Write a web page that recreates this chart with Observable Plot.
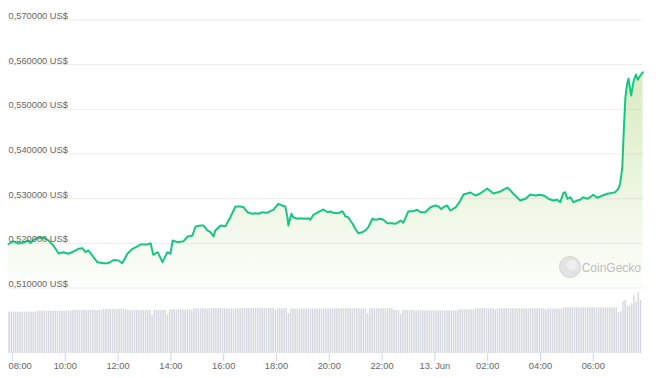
<!DOCTYPE html>
<html><head><meta charset="utf-8">
<script src="https://cdn.jsdelivr.net/npm/d3@7"></script>
<script src="https://cdn.jsdelivr.net/npm/@observablehq/plot@0.6"></script>
<style>
html,body{margin:0;padding:0;background:#fff;}
#chart{width:659px;height:378px;position:relative;overflow:hidden;font-family:"Liberation Sans",Arial,sans-serif;}
#chart svg{display:block;}
</style></head><body><div id="chart"></div>
<script>
// ---- data ----
const startTime = Date.UTC(2024, 5, 12, 7, 51); // 12 Jun 07:51
// [minutes after start, price in US$]
const priceSeries = [
[0,0.51985],[11,0.52048],[23,0.51997],[34,0.52019],[45,0.52064],[50,0.52008],[57,0.52075],[68,0.52131],
[80,0.52124],[91,0.52064],[102,0.51952],[114,0.51773],[125,0.51802],[136,0.51766],[148,0.51818],[159,0.51878],
[168,0.51891],[175,0.51802],[182,0.5184],[193,0.5169],[202,0.51578],[216,0.51556],[227,0.51556],[239,0.51627],
[250,0.51616],[259,0.51556],[270,0.51766],[282,0.51878],[293,0.5193],[300,0.51974],[316,0.51974],[323,0.52003],
[329,0.51744],[339,0.51802],[350,0.51578],[361,0.51802],[368,0.51766],[373,0.52064],[384,0.52026],[398,0.52048],
[407,0.52153],[418,0.52176],[425,0.52377],[436,0.524],[443,0.524],[452,0.52288],[459,0.5225],[466,0.52153],
[470,0.52288],[482,0.524],[493,0.52384],[504,0.52585],[516,0.52825],[527,0.52825],[534,0.52809],[543,0.52697],
[554,0.52662],[561,0.52675],[568,0.52662],[577,0.52697],[588,0.52684],[595,0.5272],[602,0.52751],[613,0.52885],
[622,0.52847],[629,0.52825],[634,0.52585],[636,0.524],[643,0.52662],[647,0.52585],[657,0.5255],[663,0.52563],
[675,0.5255],[682,0.52563],[686,0.52527],[693,0.52639],[704,0.52697],[716,0.52758],[725,0.52697],[732,0.52713],
[738,0.52684],[750,0.52675],[759,0.5272],[766,0.52601],[772,0.52585],[782,0.52438],[788,0.52326],[795,0.52227],
[804,0.5225],[811,0.52288],[818,0.52362],[827,0.5255],[834,0.52527],[845,0.5255],[852,0.52527],[861,0.52451],
[872,0.52451],[879,0.52438],[886,0.52473],[891,0.52512],[897,0.52459],[909,0.5272],[920,0.5272],[929,0.52751],
[936,0.52697],[947,0.52697],[959,0.52809],[970,0.52847],[977,0.52825],[984,0.52765],[988,0.52809],[997,0.52847],
[1004,0.52735],[1016,0.52803],[1027,0.52959],[1034,0.53094],[1050,0.53138],[1061,0.53071],[1072,0.53116],[1088,0.53228],
[1102,0.53116],[1118,0.53161],[1134,0.5325],[1147,0.53116],[1156,0.53026],[1163,0.52959],[1175,0.52997],[1186,0.53094],
[1197,0.53071],[1209,0.53087],[1220,0.53056],[1227,0.52997],[1238,0.52959],[1247,0.52975],[1254,0.52921],[1261,0.53123],
[1265,0.53145],[1270,0.52997],[1277,0.53033],[1284,0.52921],[1293,0.52959],[1300,0.52982],[1306,0.53033],[1315,0.52997],
[1322,0.53033],[1329,0.53087],[1338,0.5302],[1350,0.53071],[1361,0.53109],[1368,0.53123],[1379,0.53145],[1386,0.53221],
[1390,0.53333],[1395,0.53705],[1398,0.54452],[1402,0.55272],[1406,0.55572],[1409,0.55684],[1415,0.5531],[1421,0.55646],
[1426,0.5578],[1430,0.55661],[1436,0.55758],[1442,0.55831]
];
// 5-minute volume bars (millions US$), one per interval starting at startTime
const volumeStepMinutes = 5;
const volumes = [
41.4,41.2,41.4,41.3,41.4,41.2,41.4,41.3,41.4,41.3,41.2,41.4,41.3,
42.3,42.4,42.2,42.3,42.4,42.3,42.2,42.3,42.4,42.3,42.3,42.2,42.4,42.3,42.3,42.4,
43.0,43.1,42.9,43.0,43.1,43.0,42.9,43.0,43.1,43.0,43.0,42.9,43.1,43.0,
44.0,44.1,43.9,44.0,44.1,44.0,43.9,44.0,44.1,44.0,43.9,
43.0,43.1,42.9,43.0,43.1,43.0,42.9,43.0,43.1,43.0,
43.0,38.0,
43.0,43.1,42.9,43.0,43.1,43.0,
38.7,
43.7,43.8,43.6,43.7,43.8,43.7,43.6,43.7,43.8,43.7,43.6,
44.7,44.8,44.6,44.7,44.8,44.7,44.2,44.7,44.8,44.7,44.6,44.7,44.8,44.7,44.6,44.7,44.8,44.2,44.7,44.6,44.7,44.8,44.7,
45.0,45.1,44.9,45.0,45.1,45.0,44.9,45.0,45.1,45.0,44.9,45.0,45.1,45.0,
43.0,
44.7,44.8,44.6,44.7,44.8,
40.0,
44.5,44.6,44.4,44.5,44.6,44.5,44.4,44.5,44.6,44.5,44.4,44.5,44.6,44.5,44.4,44.5,44.6,44.5,44.4,
44.7,44.8,44.6,44.7,44.8,44.7,44.6,44.7,44.8,44.7,44.6,44.7,44.8,44.7,44.6,44.7,
40.0,
44.7,44.8,44.6,44.7,44.8,44.7,44.6,44.7,44.8,44.7,44.6,
43.0,43.1,42.9,
39.0,
43.0,43.1,42.9,43.0,43.1,
42.7,42.8,42.6,42.7,42.8,42.7,42.6,42.7,42.8,42.7,42.6,42.7,42.8,42.7,42.6,42.7,42.8,42.7,42.6,42.7,42.8,
43.7,43.8,43.6,43.7,43.8,43.7,43.6,
44.7,44.8,44.6,44.7,44.8,44.7,44.6,44.7,44.8,
43.5,
44.7,44.8,44.6,44.7,44.8,44.6,44.7,44.8,44.6,44.7,44.8,44.6,44.7,44.8,44.6,44.7,44.8,44.6,44.7,44.8,44.6,44.7,
43.5,
44.5,44.6,44.4,44.5,44.6,44.5,44.4,
45.7,45.8,45.6,45.7,45.8,45.6,45.7,45.8,45.6,45.7,45.8,45.6,45.7,45.8,45.6,45.7,45.8,45.6,45.7,45.8,45.6,45.7,45.8,45.6,45.7,
41.0,41.7,51.3,53.0,47.0,47.0,49.7,58.0,51.3,60.7,53.0
];
const priceTicks = [0.51, 0.52, 0.53, 0.54, 0.55, 0.56, 0.57];
const timeTickHours = [8, 10, 12, 14, 16, 18, 20, 22, 24, 26, 28, 30]; // hours after 12 Jun 00:00
const timeTickLabels = ["08:00","10:00","12:00","14:00","16:00","18:00","20:00","22:00","13. Jun","02:00","04:00","06:00"];
const volumeDomain = [0, 61];
const endMinutes = 1442;

// ---- build ----
const MIN = 60000;
const dayStart = Date.UTC(2024, 5, 12, 0, 0);
const priceData = priceSeries.map(([m, p]) => ({date: new Date(startTime + m * MIN), price: p}));
const volData = volumes.map((v, i) => ({
  start: new Date(startTime + i * volumeStepMinutes * MIN),
  end: new Date(startTime + (i + 1) * volumeStepMinutes * MIN),
  vol: v
}));
const tickDates = timeTickHours.map(h => new Date(dayStart + h * 3600000));
const labelOf = new Map(tickDates.map((d, i) => [+d, timeTickLabels[i]]));
const xDomain = [new Date(startTime), new Date(startTime + endMinutes * MIN)];
const fmtPrice = d => d.toFixed(6).replace(".", ",") + " US$";

const W = 659;
const font = "'Liberation Sans', Arial, sans-serif";
const common = {width: W, marginLeft: 8, marginRight: 16.5};
const lineColor = "#16c784";

const topPlot = Plot.plot({
  ...common,
  height: 292, marginTop: 19.5, marginBottom: 4.5,
  style: {fontFamily: font, fontSize: "9.3px", color: "#666", background: "transparent", overflow: "visible"},
  x: {type: "utc", domain: xDomain, axis: null},
  y: {domain: [priceTicks[0], priceTicks[priceTicks.length - 1]], axis: null},
  marks: [
    Plot.gridY({ticks: priceTicks, stroke: "#ececec", strokeOpacity: 1}),
    Plot.areaY(priceData, {x: "date", y1: priceTicks[0], y2: "price", fill: "url(#cgArea)"}),
    Plot.dot(["logo"], {frameAnchor: "bottom-right", dx: -73, dy: -21, r: 10.5, fill: "#e3e3e3", stroke: "#d4d4d4", strokeWidth: 1}),
    Plot.dot(["logo"], {frameAnchor: "bottom-right", dx: -71, dy: -23, r: 5, fill: "#efefef"}),
    Plot.text(["CoinGecko"], {text: d => d, frameAnchor: "bottom-right", textAnchor: "end", lineAnchor: "middle", dx: -2, dy: -20, fontSize: 12, fill: "#bdbdbd"}),
    Plot.lineY(priceData, {x: "date", y: "price", stroke: lineColor, strokeWidth: 2, strokeLinejoin: "round"}),
    Plot.text(priceTicks, {y: d => d, text: fmtPrice, frameAnchor: "left", textAnchor: "start", lineAnchor: "bottom", dy: -1, fill: "#666"})
  ]
});

const defs = document.createElementNS("http://www.w3.org/2000/svg", "defs");
defs.innerHTML = '<linearGradient id="cgArea" x1="0" y1="0" x2="0" y2="1">' +
  '<stop offset="0" stop-color="#8dc647" stop-opacity="0.34"/>' +
  '<stop offset="1" stop-color="#8dc647" stop-opacity="0.02"/></linearGradient>';
topPlot.insertBefore(defs, topPlot.firstChild);

const bottomPlot = Plot.plot({
  ...common,
  height: 86, marginTop: 0, marginBottom: 25,
  style: {fontFamily: font, fontSize: "9.3px", color: "#666", background: "transparent", overflow: "visible"},
  x: {type: "utc", domain: xDomain, axis: null},
  y: {domain: volumeDomain, axis: null},
  marks: [
    Plot.rectY(volData, {x1: "start", x2: "end", y: "vol", fill: "#d5d8de", insetLeft: 0.35, insetRight: 0.35}),
    Plot.axisX({ticks: tickDates, tickSize: 8, stroke: "#ccd6eb", strokeOpacity: 1, tickFormat: () => ""}),
    Plot.axisX({ticks: tickDates.slice(1), tickSize: 0, tickPadding: 8.5, fill: "#666", tickFormat: d => labelOf.get(+d)}),
    Plot.axisX({ticks: tickDates.slice(0, 1), tickSize: 0, tickPadding: 8.5, fill: "#666", textAnchor: "start", dx: -4, tickFormat: d => labelOf.get(+d)})
  ]
});

const chart = document.getElementById("chart");
chart.appendChild(topPlot);
chart.appendChild(bottomPlot);
</script>
</body></html>
